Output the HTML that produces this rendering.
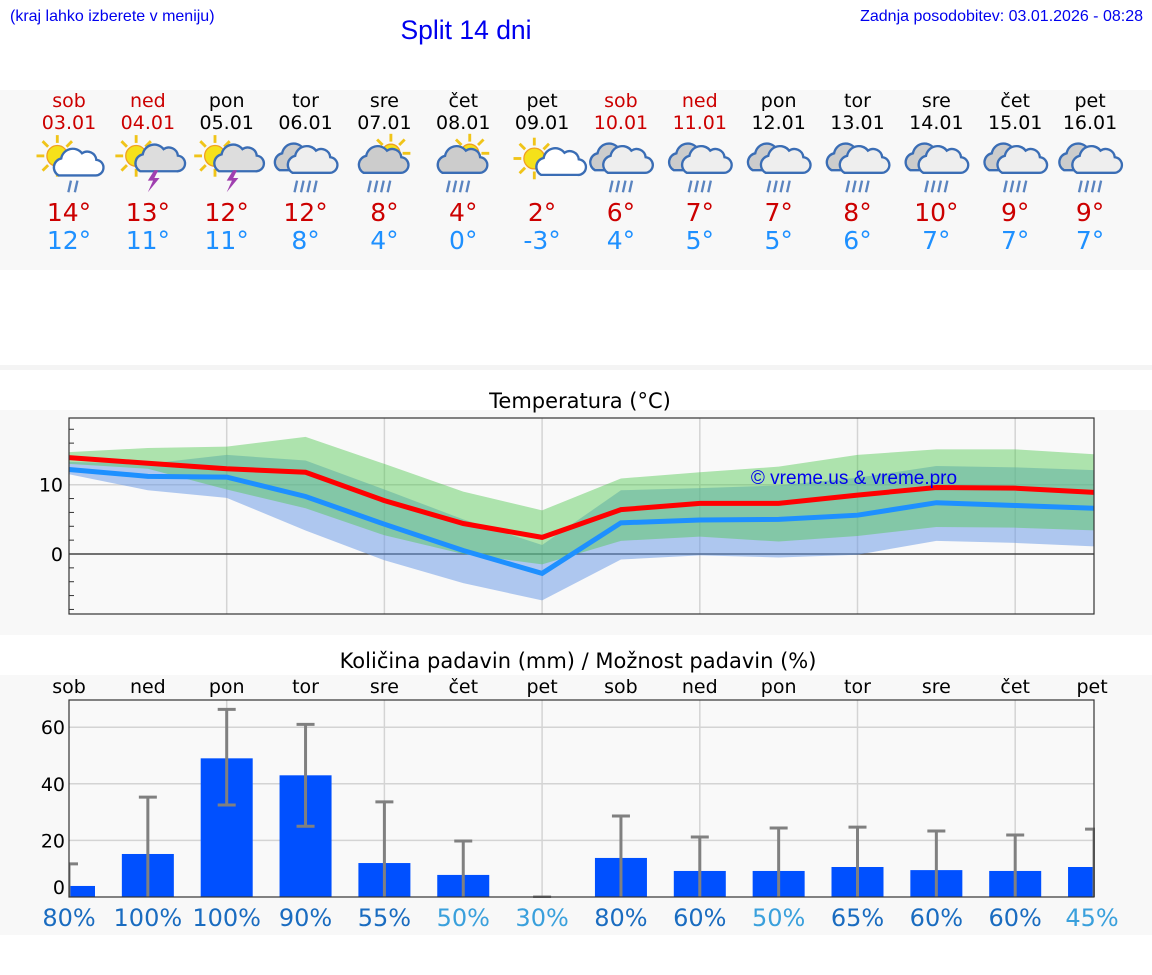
<!DOCTYPE html>
<html><head><meta charset="utf-8"><style>
html,body{margin:0;padding:0;background:#fff;width:1152px;height:975px;overflow:hidden}
svg{display:block;font-family:"DejaVu Sans","Liberation Sans",sans-serif}
</style></head><body>
<svg id="s" width="1152" height="975" xmlns="http://www.w3.org/2000/svg">
<rect x="0" y="90" width="1152" height="180" fill="#f8f8f8"/>
<rect x="0" y="365" width="1152" height="5" fill="#f4f4f4"/>
<rect x="0" y="410" width="1152" height="225" fill="#f8f8f8"/>
<rect x="0" y="675" width="1152" height="260" fill="#f8f8f8"/>
<text x="10" y="21" font-family="Liberation Sans" font-size="16" fill="#0000ee">(kraj lahko izberete v meniju)</text>
<text x="466" y="39" font-family="Liberation Sans" font-size="26.5" fill="#0000ee" text-anchor="middle">Split 14 dni</text>
<text x="1143" y="21" font-family="Liberation Sans" font-size="16" fill="#0000ee" text-anchor="end">Zadnja posodobitev: 03.01.2026 - 08:28</text>
<text x="580" y="408" font-size="21" fill="#000" text-anchor="middle">Temperatura (°C)</text>
<text x="578" y="668" font-size="21" fill="#000" text-anchor="middle">Količina padavin (mm) / Možnost padavin (%)</text>
<g id="g"></g>
</svg>
<script>
const days=["sob","ned","pon","tor","sre","čet","pet","sob","ned","pon","tor","sre","čet","pet"];
const dates=["03.01","04.01","05.01","06.01","07.01","08.01","09.01","10.01","11.01","12.01","13.01","14.01","15.01","16.01"];
const weekend=[1,1,0,0,0,0,0,1,1,0,0,0,0,0];
const icons=[0,1,1,2,3,3,4,2,2,2,2,2,2,2];
const hiLabel=[14,13,12,12,8,4,2,6,7,7,8,10,9,9];
const loLabel=[12,11,11,8,4,0,-3,4,5,5,6,7,7,7];
const tMax=[13.9,13.1,12.3,11.8,7.7,4.4,2.4,6.4,7.3,7.3,8.5,9.6,9.5,8.9];
const tMin=[12.2,11.2,11.1,8.3,4.3,0.5,-2.8,4.5,4.9,5.0,5.6,7.4,7.0,6.6];
const maxHi=[14.7,15.3,15.5,16.9,13.0,9.0,6.3,10.9,11.8,12.6,14.3,15.1,15.1,14.4];
const maxLo=[13.0,12.3,9.3,6.6,2.7,0.0,-1.5,1.9,2.5,1.8,2.6,3.9,3.8,3.4];
const minHi=[13.3,13.0,14.3,13.5,9.3,5.0,1.3,9.2,9.5,9.9,11.0,12.7,12.5,12.1];
const minLo=[11.5,9.2,8.1,3.4,-0.9,-4.2,-6.7,-0.8,-0.2,-0.5,-0.1,1.9,1.6,1.1];
const precip=[3.9,15.2,49,43,12,7.8,0,13.8,9.2,9.2,10.6,9.5,9.2,10.6];
const errHi=[11.7,35.3,66.3,61,33.6,19.8,0,28.6,21.2,24.4,24.7,23.3,21.9,24];
const errLo=[0,0,32.5,25,0,0,0,0,0,0,0,0,0,0];
const prob=[80,100,100,90,55,50,30,80,60,50,65,60,60,45];
const tTicks=[0,10];
const pTicks=[0,20,40,60];

const NS="http://www.w3.org/2000/svg";
const G=document.getElementById('g');
function mk(tag,a,p){const e=document.createElementNS(NS,tag);for(const k in a)e.setAttribute(k,a[k]);(p||G).appendChild(e);return e;}
const X0=69,DX=78.85,PR=1094;
const xd=i=>X0+i*DX;
const yT=v=>554-v*6.93;
const yP=v=>897-v*2.83;

// header
days.forEach((d,i)=>{
  const x=xd(i)-(i==13?4:0);
  const c=weekend[i]?"#cc0000":"#000";
  let t=mk('text',{x:x,y:107,'font-size':19,fill:c,'text-anchor':'middle'});t.textContent=d;
  
  
  t=mk('text',{x:x,y:129,'font-size':19,fill:c,'text-anchor':'middle'});t.textContent=dates[i];
  
  
  t=mk('text',{x:x,y:221,'font-size':25,fill:"#cc0000",'text-anchor':'middle'});t.textContent=hiLabel[i]+"°";
  
  
  t=mk('text',{x:x,y:249,'font-size':25,fill:"#1e90ff",'text-anchor':'middle'});t.textContent=loLabel[i]+"°";
  
  
  const g=mk('g',{transform:`translate(${x},165) scale(1.3)`});
  
  
  const ic=icons[i];
  function sun(cx,cy,r){for(let k=0;k<8;k++){const a=k*Math.PI/4;mk('line',{x1:cx+Math.cos(a)*(r+2),y1:cy+Math.sin(a)*(r+2),x2:cx+Math.cos(a)*(r+8),y2:cy+Math.sin(a)*(r+8),stroke:'#f0c419','stroke-width':2.2},g);}mk('circle',{cx:cx,cy:cy,r:r,fill:'#f5e11a',stroke:'#f0a020','stroke-width':1},g);}
  function cloud(cx,cy,s,fill){mk('path',{d:`M${cx-14*s},${cy+8*s} a7 7 0 0 1 2,-13 a9 9 0 0 1 16,-4 a7 7 0 0 1 11,5 a6 6 0 0 1 -1,12 z`,fill:fill,stroke:'#3a6db5','stroke-width':1.8},g);}
  function rain(cx,cy,n){for(let k=0;k<n;k++)mk('line',{x1:cx+k*5-(n-1)*2.5+1,y1:cy,x2:cx+k*5-(n-1)*2.5-1,y2:cy+9,stroke:'#5a84c0','stroke-width':1.8},g);}
  function bolt(cx,cy){mk('path',{d:`M${cx+2},${cy} l-5,8 h4 l-4,9 l9,-11 h-4 l3,-6z`,fill:'#a040b0'},g);}
  if(ic==0){sun(-9,-7,8);cloud(6,0,1,'#fff');rain(3,12,2);}
  else if(ic==1){sun(-9,-7,8);cloud(6,-2,0.85,'#ddd');bolt(3,4);}
  else if(ic==2){cloud(-6,-4,1,'#ccc');cloud(4,-2,1,'#eee');rain(0,12,4);}
  else if(ic==3){sun(5,-9,7);cloud(-2,-2,1,'#ccc');rain(-4,12,4);}
  else if(ic==4){sun(-6,-5,8);cloud(9,2,0.7,'#fff');}
});

// temperature chart
mk('rect',{x:X0,y:418,width:PR-X0,height:196,fill:'#f9f9f9'});
for(let i=2;i<14;i+=2)mk('line',{x1:xd(i),y1:418,x2:xd(i),y2:614,stroke:'#d4d4d4','stroke-width':1.5});
tTicks.forEach(v=>{mk('line',{x1:X0,y1:yT(v),x2:PR,y2:yT(v),stroke:v==0?'#444':'#d4d4d4','stroke-width':1.5});
  const t=mk('text',{x:X0-6,y:yT(v)+7,'font-size':19,'text-anchor':'end'});t.textContent=v;
  
  });
for(let v=-8;v<=18;v+=2){if(v==0||v==10)continue;mk('line',{x1:X0,y1:yT(v),x2:X0+5,y2:yT(v),stroke:'#333'});}
const cp=mk('clipPath',{id:'tc'});mk('rect',{x:X0,y:418,width:PR-X0,height:196},cp);
function band(hi,lo,fill,name){const pts=hi.map((v,i)=>xd(i)+','+yT(v)).concat(lo.map((v,i)=>xd(i)+','+yT(v)).reverse());
  const p=mk('polygon',{points:pts.join(' '),fill:fill,'clip-path':'url(#tc)'});}
band(minHi,minLo,'rgba(100,150,230,0.5)','min-temp-range');
band(maxHi,maxLo,'rgba(80,200,80,0.45)','max-temp-range');
function line(d,c,name){const p=mk('polyline',{points:d.map((v,i)=>xd(i)+','+yT(v)).join(' '),fill:'none',stroke:c,'stroke-width':5,'clip-path':'url(#tc)'});}
line(tMin,'#1e90ff','min-temp-line');
line(tMax,'#ff0000','max-temp-line');
let wm=mk('text',{x:854,y:484,'font-family':'Liberation Sans','font-size':19,fill:'#0000ee','text-anchor':'middle'});wm.textContent='© vreme.us & vreme.pro';


mk('rect',{x:X0,y:418,width:PR-X0,height:196,fill:'none',stroke:'#333','stroke-width':1.2});

// precipitation chart
mk('rect',{x:X0,y:700,width:PR-X0,height:197,fill:'#f9f9f9'});
for(let i=2;i<14;i+=2)mk('line',{x1:xd(i),y1:700,x2:xd(i),y2:897,stroke:'#d4d4d4','stroke-width':1.5});
pTicks.forEach(v=>{if(v>0)mk('line',{x1:X0,y1:yP(v),x2:PR,y2:yP(v),stroke:'#d4d4d4','stroke-width':1.5});
  const t=mk('text',{x:X0-4,y:(v==0?yP(v)-10:yP(v))+7,'font-size':19,'text-anchor':'end'});t.textContent=v;
  
  });
const cp2=mk('clipPath',{id:'pc'});mk('rect',{x:X0,y:690,width:PR-X0+1,height:208},cp2);
precip.forEach((v,i)=>{
  const b=mk('rect',{x:xd(i)-26,y:yP(v),width:52,height:897-yP(v),fill:'#0050ff','clip-path':'url(#pc)'});
  
  
  const e=mk('g',{'clip-path':'url(#pc)'});
  
  
  mk('line',{x1:xd(i),y1:yP(errHi[i]),x2:xd(i),y2:yP(errLo[i]),stroke:'#808080','stroke-width':3},e);
  mk('line',{x1:xd(i)-9,y1:yP(errHi[i]),x2:xd(i)+9,y2:yP(errHi[i]),stroke:'#808080','stroke-width':3},e);
  if(errLo[i]>0)mk('line',{x1:xd(i)-9,y1:yP(errLo[i]),x2:xd(i)+9,y2:yP(errLo[i]),stroke:'#808080','stroke-width':3},e);
  let t=mk('text',{x:xd(i)-(i==13?2:0),y:693,'font-size':19,'text-anchor':'middle'});t.textContent=days[i];
  
  
  t=mk('text',{x:xd(i)-(i==13?2:0),y:926,'font-size':24,'text-anchor':'middle',fill:prob[i]>50?'#1a6cc0':'#3aa0dc'});t.textContent=prob[i]+'%';
  
  
});
mk('rect',{x:X0,y:700,width:PR-X0,height:197,fill:'none',stroke:'#333','stroke-width':1.2});
</script>
</body></html>
